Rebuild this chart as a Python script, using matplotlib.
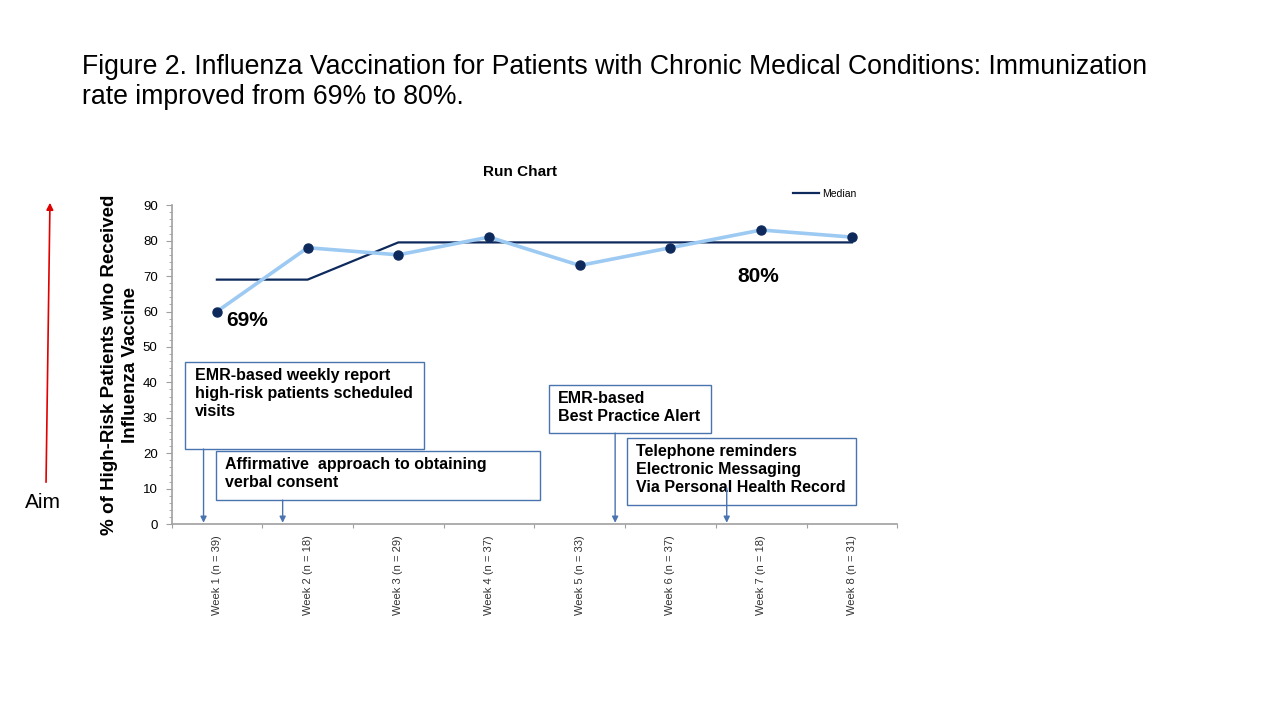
import matplotlib.pyplot as plt
from matplotlib.patches import FancyArrowPatch, Rectangle
from matplotlib.ticker import MultipleLocator

plt.rcParams["font.family"] = ["Liberation Sans", "DejaVu Sans"]

WEEKS = ["Week 1 (n = 39)", "Week 2 (n = 18)", "Week 3 (n = 29)", "Week 4 (n = 37)",
         "Week 5 (n = 33)", "Week 6 (n = 37)", "Week 7 (n = 18)", "Week 8 (n = 31)"]
RATE = [60, 78, 76, 81, 73, 78, 83, 81]
MEDIAN = [69, 69, 79.5, 79.5, 79.5, 79.5, 79.5, 79.5]

NAVY = "#0e2a5c"
LIGHT = "#9ccaf2"
BOX = "#4a74b0"

fig = plt.figure(figsize=(12.8, 7.2), dpi=100)
ax = fig.add_axes([0.134, 0.272, 0.567, 0.443])

x = list(range(len(WEEKS)))
ax.plot(x, MEDIAN, color=NAVY, lw=1.6, label="Median", zorder=2)
ax.plot(x, RATE, color=LIGHT, lw=2.6, zorder=3)
ax.plot(x, RATE, ls="none", marker="o", ms=6.5, color=NAVY, zorder=4)

ax.set_xlim(-0.5, len(WEEKS) - 0.5)
ax.set_ylim(0, 90)
ax.yaxis.set_major_locator(MultipleLocator(10))
ax.yaxis.set_minor_locator(MultipleLocator(2))
ax.set_xticks([i - 0.5 for i in range(len(WEEKS) + 1)])
ax.set_xticklabels([])
ax.set_xticks(x, minor=True)
ax.set_xticklabels(WEEKS, minor=True, rotation=90, fontsize=8, color="#333333")
ax.tick_params(axis="x", which="minor", length=0, pad=8)
ax.tick_params(axis="x", which="major", length=3, color="#a0a0a0")
ax.tick_params(axis="y", which="major", length=4, color="#a0a0a0", labelsize=9.5, pad=6)
ax.tick_params(axis="y", which="minor", length=2, color="#a0a0a0")
for s in ["top", "right"]:
    ax.spines[s].set_visible(False)
for s in ["left", "bottom"]:
    ax.spines[s].set_color("#a0a0a0")
    ax.spines[s].set_linewidth(1.2)

fig.text(520 / 1280, 1 - 172 / 720, "Run Chart", fontsize=11, fontweight="bold",
         ha="center", va="center")
ax.set_ylabel("% of High-Risk Patients who Received\nInfluenza Vaccine",
              fontsize=13.5, fontweight="bold", linespacing=1.3, labelpad=3)
ax.legend(loc="lower right", bbox_to_anchor=(0.957, 0.99), frameon=False,
          fontsize=7.5, handlelength=2.5, handletextpad=0.3)

ax.text(0.1, 57.5, "69%", fontsize=15, fontweight="bold", va="center")
ax.text(5.97, 70, "80%", fontsize=15, fontweight="bold", va="center", ha="center")

# intervention boxes: (x0, x1, y0, y1, text)
boxes = [
    (-0.346, 2.28, 21.2, 45.7, "EMR-based weekly report\nhigh-risk patients scheduled\nvisits"),
    (-0.014, 3.56, 6.8, 20.6, "Affirmative  approach to obtaining\nverbal consent"),
    (3.66, 5.45, 25.7, 39.2, "EMR-based\nBest Practice Alert"),
    (4.52, 7.05, 5.4, 24.3, "Telephone reminders\nElectronic Messaging\nVia Personal Health Record"),
]
for x0, x1, y0, y1, txt in boxes:
    ax.add_patch(Rectangle((x0, y0), x1 - x0, y1 - y0, fill=False,
                           ec=BOX, lw=1.0, zorder=5, clip_on=False))
    ax.text(x0 + 0.1, y1 - 1.6, txt, fontsize=11.5, fontweight="bold", va="top",
            ha="left", linespacing=1.25, zorder=6)

arrows = [(-0.147, 21.2), (0.725, 6.8), (4.39, 25.7), (5.62, 10.2)]
for ax_x, y_start in arrows:
    ax.annotate("", xy=(ax_x, 0.4), xytext=(ax_x, y_start),
                arrowprops=dict(arrowstyle="-|>", color=BOX, lw=1.0,
                                mutation_scale=9, shrinkA=0, shrinkB=0), zorder=6)

# Aim arrow
fig.add_artist(FancyArrowPatch(
    (46 / 1280, 1 - 485 / 720), (50 / 1280, 1 - 200 / 720), transform=fig.transFigure,
    arrowstyle="-|>", mutation_scale=10, color="#e00000", lw=1.2))
fig.text(43 / 1280, 1 - 503 / 720, "Aim", fontsize=15, ha="center", va="center")

fig.text(82 / 1280, 1 - 82 / 720,
         "Figure 2. Influenza Vaccination for Patients with Chronic Medical Conditions: Immunization\n"
         "rate improved from 69% to 80%.",
         fontsize=19.2, ha="left", va="center", linespacing=1.2)

fig.savefig("out.png", dpi=100)
